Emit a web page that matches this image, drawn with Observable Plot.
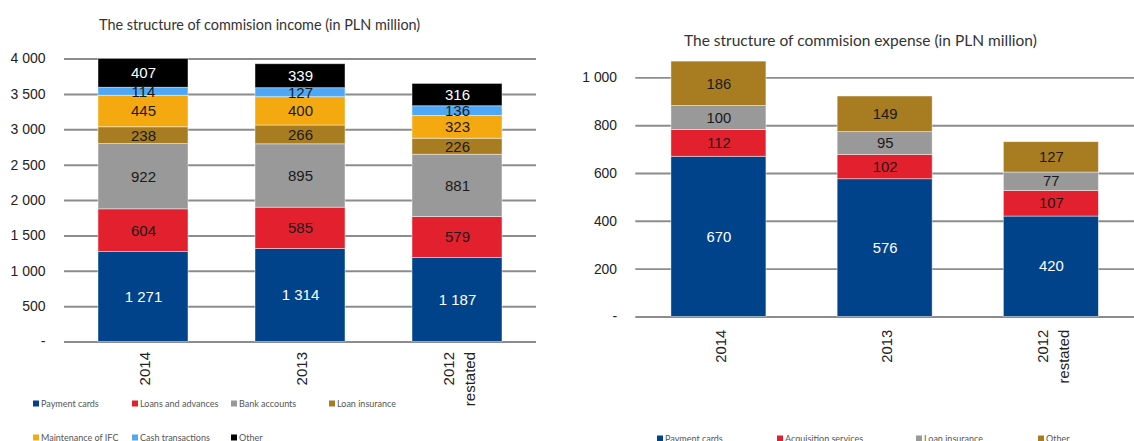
<!DOCTYPE html>
<html><head><meta charset="utf-8">
<script src="https://cdn.jsdelivr.net/npm/d3@7"></script>
<script src="https://cdn.jsdelivr.net/npm/@observablehq/plot@0.6"></script>
<style>
body{margin:0;background:#fff;}
#root{position:relative;width:1134px;height:441px;overflow:hidden;background:#fff;font-family:Lato, "Open Sans", sans-serif;}
.title{position:absolute;color:#333;white-space:nowrap;transform:translateY(-50%);}
.chart{position:absolute;}
.leg{position:absolute;font-size:9px;color:#555;white-space:nowrap;display:flex;align-items:center;transform:translateY(-50%);z-index:2;}
.leg i{display:inline-block;width:6px;height:6px;margin-right:2px;}
</style></head>
<body><div id="root"></div>
<script>
// ---- categories ----
const years = ["2014", "2013", "2012\nrestated"];

// ---- income series (PLN million) ----
const incomeSeries = ["Payment cards", "Loans and advances", "Bank accounts", "Loan insurance", "Maintenance of IFC", "Cash transactions", "Other"];
const incPaymentCards     = [1271, 1314, 1187];
const incLoansAdvances    = [604, 585, 579];
const incBankAccounts     = [922, 895, 881];
const incLoanInsurance    = [238, 266, 226];
const incMaintenanceIFC   = [445, 400, 323];
const incCashTransactions = [114, 127, 136];
const incOther            = [407, 339, 316];
const incomeTicks = [0, 500, 1000, 1500, 2000, 2500, 3000, 3500, 4000];

// ---- expense series (PLN million) ----
const expenseSeries = ["Payment cards", "Acquisition services", "Loan insurance", "Other"];
const expPaymentCards  = [670, 576, 420];
const expAcquisition   = [112, 102, 107];
const expLoanInsurance = [100, 95, 77];
const expOther         = [186, 149, 127];
const expenseTicks = [0, 200, 400, 600, 800, 1000];

// ---- styles ----
const incomeColors = ["#00438a", "#e3202d", "#999999", "#a87d21", "#f4a911", "#4fa8f5", "#000000"];
const incomeLabelColors = ["#ffffff", "#1a1a1a", "#1a1a1a", "#1a1a1a", "#1a1a1a", "#1a1a1a", "#ffffff"];
const expenseColors = ["#00438a", "#e3202d", "#999999", "#a87d21"];
const expenseLabelColors = ["#ffffff", "#1a1a1a", "#1a1a1a", "#1a1a1a"];

const incomeValues = [incPaymentCards, incLoansAdvances, incBankAccounts, incLoanInsurance, incMaintenanceIFC, incCashTransactions, incOther];
const expenseValues = [expPaymentCards, expAcquisition, expLoanInsurance, expOther];

function buildRows(series, values, colors, labelColors) {
  const rows = [];
  series.forEach((s, i) => years.forEach((y, j) => rows.push({year: y, series: s, value: values[i][j], color: colors[i], lab: labelColors[i]})));
  return rows;
}
const incomeRows = buildRows(incomeSeries, incomeValues, incomeColors, incomeLabelColors);
const expenseRows = buildRows(expenseSeries, expenseValues, expenseColors, expenseLabelColors);

const fmtNum = d => d3.format(",")(d).replace(/,/g, " ");
const fmtTick = d => d === 0 ? "-" : fmtNum(d);

function chart(rows, ticks, o) {
  return Plot.plot({
    width: o.width, height: o.height,
    marginTop: o.mt, marginBottom: o.mb, marginLeft: o.ml, marginRight: o.mr,
    style: {background: "transparent", fontFamily: "'Liberation Sans', Arial, sans-serif", color: "#222", overflow: "visible"},
    x: {domain: years, paddingInner: 0.4286, paddingOuter: 0.214, label: null},
    y: {domain: o.ydomain, label: null},
    color: {type: "identity"},
    marks: [
      Plot.ruleY(ticks, {stroke: "#8c8c8c", strokeWidth: 2}),
      Plot.barY(rows, {x: "year", y: "value", z: "series", fill: "color", stroke: "#ffffff", strokeWidth: 0.8, strokeOpacity: 0.55}),
      Plot.text(rows, Plot.stackY({x: "year", y: "value", z: "series", text: d => fmtNum(d.value), fill: "lab", fontSize: 15})),
      Plot.axisY({ticks: ticks, tickFormat: fmtTick, tickSize: 0, tickPadding: 19, fontSize: 14, label: null, fill: "#222"}),
      Plot.axisX({tickRotate: -90, tickSize: 0, tickPadding: o.xpad, fontSize: 15, lineHeight: 1.45, label: null, fill: "#222"})
    ]
  });
}

const root = document.getElementById("root");
function place(el, left, top) {
  const d = document.createElement("div");
  d.className = "chart"; d.style.left = left + "px"; d.style.top = top + "px";
  d.appendChild(el); root.appendChild(d);
}
place(chart(incomeRows, incomeTicks, {width: 560, height: 380, mt: 18.5, mb: 78.5, ml: 64, mr: 24, ydomain: [0, 4000], xpad: 10}), 0, 40);
place(chart(expenseRows, expenseTicks, {width: 570, height: 370, mt: 3.5, mb: 100.7, ml: 66, mr: 0, ydomain: [0, 1100], xpad: 13}), 570, 50);

function title(text, x, y, size) {
  const t = document.createElement("div");
  t.className = "title"; t.textContent = text;
  t.style.left = x + "px"; t.style.top = y + "px"; t.style.fontSize = size + "px";
  root.appendChild(t);
}
title("The structure of commision income (in PLN million)", 99, 24, 14.4);
title("The structure of commision expense (in PLN million)", 684, 40, 15.5);

function legend(items, colors, xs, ys) {
  items.forEach((s, i) => {
    const l = document.createElement("div");
    l.className = "leg";
    l.style.left = xs[i] + "px"; l.style.top = ys[i] + "px";
    const sq = document.createElement("i"); sq.style.background = colors[i];
    l.appendChild(sq); l.appendChild(document.createTextNode(s));
    root.appendChild(l);
  });
}
legend(incomeSeries, incomeColors, [33, 132, 231, 329, 33, 132, 231], [403, 403, 403, 403, 437, 437, 437]);
legend(expenseSeries, expenseColors, [657, 777, 916, 1038], [438, 438, 438, 438]);
</script>
</body></html>
